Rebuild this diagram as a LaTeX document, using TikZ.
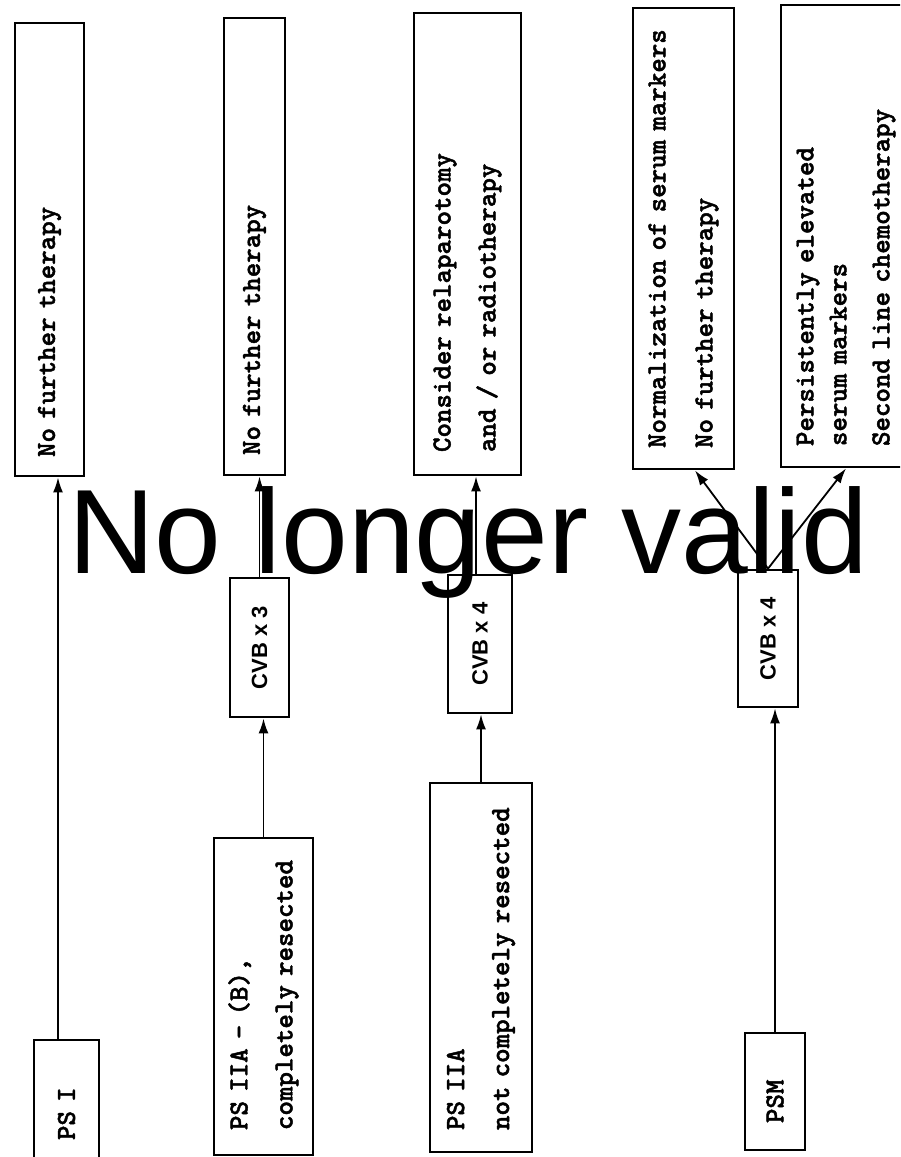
\documentclass[tikz,border=0pt]{standalone}
\usepackage{fontspec}
\usetikzlibrary{arrows.meta,calc}
\newfontfamily\sansfam{Liberation Sans}
\newfontfamily\typew{lmmonolt10-bold}[Extension=.otf, FakeBold=1.6]
\begin{document}
\begin{tikzpicture}[
  x=1pt, y=-1pt,
  stage/.style={draw, line width=2.8pt, rotate=90, align=left, inner ysep=0pt,
    font=\typew\fontsize{27.6}{45}\selectfont},
  course/.style={draw, line width=2.8pt, rotate=90, inner sep=0pt,
    font=\sansfam\bfseries\fontsize{22}{26}\selectfont},
  flow/.style={line width=1.8pt, -{Latex[length=15pt,width=10pt]}},
  stamp/.style={anchor=base west, inner sep=0pt,
    font=\sansfam\fontsize{120}{120}\selectfont}
]
\useasboundingbox (0,0) rectangle (900,1157);
\fill[white] (0,0) rectangle (900,1157);
\clip (0,0) rectangle (900,1157);

% outcome boxes (top row)
\node[stage, text width=415pt, inner xsep=19pt, minimum height=69pt] (nfA) at (49.5,249.5)
  {\mbox{No further therapy}};
\node[stage, text width=417pt, inner xsep=20pt, minimum height=61pt] (nfB) at (254.5,246.5)
  {\mbox{No further therapy}};
\node[stage, text width=416pt, inner xsep=23pt, minimum height=107pt] (nfC) at (467.5,244)
  {\mbox{Consider relaparotomy}\\\mbox{and / or radiotherapy}};
\node[stage, text width=419pt, inner xsep=21pt, minimum height=101pt] (nfD) at (683.5,238.5)
  {\mbox{Normalization of serum markers}\\[2pt]\mbox{No further therapy}};
\node[stage, text width=420pt, inner xsep=21pt, minimum height=130pt] (nfE) at (846,236)
  {\mbox{Persistently elevated}\\[-12pt]\mbox{serum markers}\\[-2pt]\mbox{Second line chemotherapy}};

% chemotherapy courses (middle row)
\node[course, minimum width=139pt, minimum height=59pt] (cvb3) at (259.5,647.5) {CVB x 3};
\node[course, minimum width=138pt, minimum height=64pt] (cvb4m) at (480,644) {CVB x 4};
\node[course, minimum width=137pt, minimum height=60pt] (cvb4r) at (768,638.5) {CVB x 4};

% stages (bottom row)
\node[stage, text width=78pt, inner xsep=22pt, minimum height=65pt] (psI) at (66.5,1101)
  {\mbox{PS I}};
\node[stage, text width=267pt, inner xsep=25pt, minimum height=99pt] (psIIB) at (263.5,996.5)
  {\mbox{PS IIA - (B),}\\\mbox{completely resected}};
\node[stage, text width=325pt, inner xsep=22pt, minimum height=102pt] (psIIA) at (481,967.5)
  {\mbox{PS IIA}\\\mbox{not completely resected}};
\node[stage, text width=63pt, inner xsep=27pt, minimum height=60pt] (psm) at (775,1091.5)
  {\mbox{PSM}};

% connectors
\draw[flow] ($(psI.east)+(-8.5,0)$) -- ($(psI.east |- nfA.west)+(-8.5,0)$);
\draw[flow] (psIIB.east) -- (psIIB.east |- cvb3.west);
\draw[flow] (cvb3.east) -- (cvb3.east |- nfB.west);
\draw[flow] (psIIA.east) -- (psIIA.east |- cvb4m.west);
\draw[flow] ($(cvb4m.east)+(-4,0)$) -- ($(cvb4m.east |- nfC.west)+(-4,0)$);
\draw[flow] (psm.east) -- (psm.east |- cvb4r.west);
\draw[flow] (cvb4r.east) -- ($(nfD.west)+(11.5,0)$);
\draw[flow] (cvb4r.east) -- (nfE.west);

% overprinted notice
\node[stamp] (notice) at (68,573) {No longer valid};
\end{tikzpicture}
\end{document}
